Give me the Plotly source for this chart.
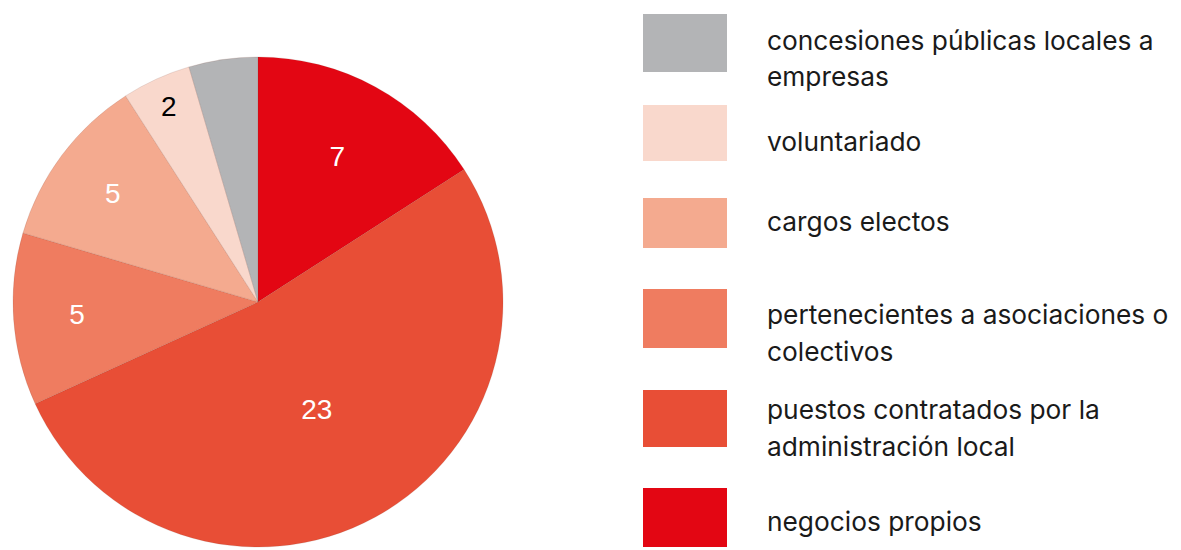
import plotly.graph_objects as go

categories = [
    "negocios propios",
    "puestos contratados por la administración local",
    "pertenecientes a asociaciones o colectivos",
    "cargos electos",
    "voluntariado",
    "concesiones públicas locales a empresas",
]
values = [7, 23, 5, 5, 2, 2]
slice_text = ["7", "23", "5", "5", "2", ""]
colors = ["#e30613", "#e84e36", "#ef7c60", "#f4aa8f", "#f9d8cc", "#b3b4b6"]
text_colors = ["white", "white", "white", "white", "black", "black"]

# legend (top to bottom)
legend_order = [5, 4, 3, 2, 1, 0]
legend_lines = [
    ["concesiones públicas locales a", "empresas"],
    ["voluntariado"],
    ["cargos electos"],
    ["pertenecientes a asociaciones o", "colectivos"],
    ["puestos contratados por la", "administración local"],
    ["negocios propios"],
]

# page body has an 8px margin; figure sized to fit the window
OFF = 8
W, H = 1181 - OFF, 550 - OFF


def px(x):
    return (x - OFF) / W


def py(y):
    return 1 - (y - OFF) / H


FONT = "Inter, Roboto, Arial, sans-serif"

fig = go.Figure()
fig.add_trace(go.Pie(
    labels=categories,
    values=values,
    text=slice_text,
    textinfo="text",
    textposition="inside",
    insidetextorientation="horizontal",
    sort=False,
    direction="clockwise",
    rotation=0,
    marker=dict(colors=colors, line=dict(color="rgba(120,60,50,0.15)", width=1)),
    textfont=dict(family="Liberation Sans, Arial, sans-serif", size=28, color=text_colors),
    showlegend=False,
    hoverinfo="label+value",
    domain=dict(x=[px(13), px(503)], y=[py(547), py(57)]),
))

# custom legend squares and text
box_tops = [14, 105, 198, 289, 390, 488]
box_bottoms = [72, 161, 248, 348, 447, 547]
line_centers = [[41, 77], [141], [221], [314, 351], [409, 446], [521]]
for k, idx in enumerate(legend_order):
    fig.add_shape(type="rect", xref="paper", yref="paper",
                  x0=px(643), x1=px(727),
                  y0=py(box_bottoms[k]), y1=py(box_tops[k]),
                  fillcolor=colors[idx], line=dict(width=0))
    for line, yc in zip(legend_lines[k], line_centers[k]):
        fig.add_annotation(x=px(765), y=py(yc), xref="paper", yref="paper",
                           text=line, showarrow=False, xanchor="left", yanchor="middle",
                           font=dict(family=FONT, size=26.3, color="#1a1a1a"))

fig.update_layout(
    width=W, height=H,
    margin=dict(l=0, r=0, t=0, b=0),
    paper_bgcolor="white",
    plot_bgcolor="white",
)
fig.write_html("out.html")
